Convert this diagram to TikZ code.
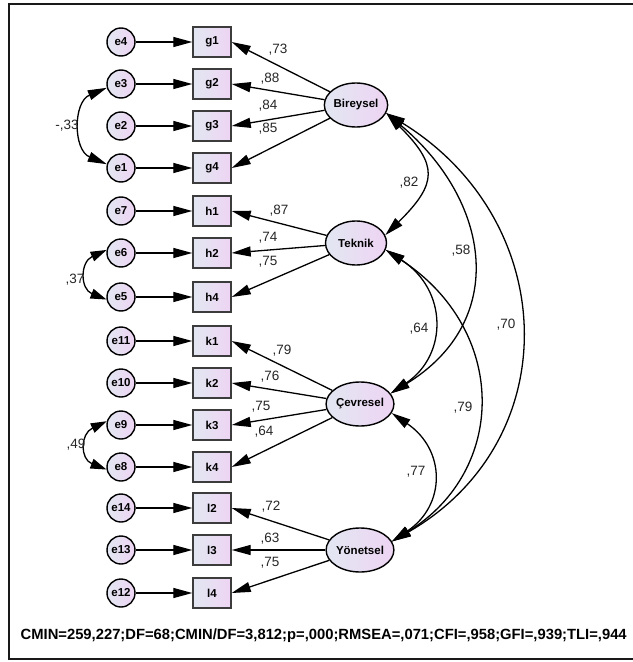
\documentclass[tikz,border=0pt]{standalone}
\usepackage{fontspec}
\setmainfont{Liberation Sans}
\usetikzlibrary{arrows.meta,shapes.geometric,calc}
\definecolor{lc}{RGB}{226,231,242}
\definecolor{rc}{RGB}{238,212,243}
\definecolor{boxline}{RGB}{60,60,60}
\begin{document}
\begin{tikzpicture}[x=1bp,y=-1bp,
  err/.style={circle,draw=black,line width=1.4bp,minimum size=28bp,inner sep=0pt,left color=lc,right color=rc,font=\fontsize{11.5bp}{13bp}\selectfont\bfseries},
  obs/.style={rectangle,draw=boxline,line width=1.4bp,minimum width=38bp,minimum height=30bp,inner sep=0pt,left color=lc,right color=rc,font=\fontsize{11.5bp}{13bp}\selectfont\bfseries},
  lat/.style={ellipse,draw=black,line width=1.4bp,minimum width=61bp,minimum height=44bp,inner sep=0pt,left color=lc,right color=rc,font=\fontsize{11.5bp}{13bp}\selectfont\bfseries},
  arr/.style={line width=1.3bp,-{Triangle[length=19bp,width=10bp]}},
  cov/.style={line width=1.3bp,{Triangle[length=19bp,width=10bp]}-{Triangle[length=19bp,width=10bp]}},
  scov/.style={line width=1.3bp,{Triangle[length=16bp,width=10bp]}-{Triangle[length=16bp,width=10bp]}},
  lab/.style={inner sep=0pt,text=black!85,font=\fontsize{13.5bp}{15bp}\selectfont}]
\useasboundingbox (0,0) rectangle (633,662);
\fill[white] (0,0) rectangle (633,662);
\draw[line width=2.6bp,black!90] (645,4) -- (9,4) -- (9,659) -- (645,659);

% error terms
\node[err] (e4) at (121,42) {e4};
\node[err] (e3) at (121,84) {e3};
\node[err] (e2) at (121,126) {e2};
\node[err] (e1) at (121,168) {e1};
\node[err] (e7) at (121,211) {e7};
\node[err] (e6) at (121,253) {e6};
\node[err] (e5) at (121,297) {e5};
\node[err] (e11) at (121,341) {e11};
\node[err] (e10) at (121,383) {e10};
\node[err] (e9) at (121,425) {e9};
\node[err] (e8) at (121,467) {e8};
\node[err] (e14) at (121,508) {e14};
\node[err] (e13) at (121,550) {e13};
\node[err] (e12) at (121,593) {e12};

% observed
\node[obs] (g1) at (212,42) {g1};
\node[obs] (g2) at (212,84) {g2};
\node[obs] (g3) at (212,126) {g3};
\node[obs] (g4) at (212,168) {g4};
\node[obs] (h1) at (212,211) {h1};
\node[obs] (h2) at (212,253) {h2};
\node[obs] (h4) at (212,297) {h4};
\node[obs] (k1) at (212,341) {k1};
\node[obs] (k2) at (212,383) {k2};
\node[obs] (k3) at (212,425) {k3};
\node[obs] (k4) at (212,467) {k4};
\node[obs] (l2) at (212,508) {l2};
\node[obs] (l3) at (212,550) {l3};
\node[obs] (l4) at (212,593) {l4};

% latent
\node[lat] (B) at (356,105) {Bireysel};
\node[lat] (T) at (356,243) {Teknik};
\node[lat] (C) at (360,404) {Çevresel};
\node[lat] (Y) at (360,550) {Yönetsel};

% error arrows
\foreach \e/\o in {e4/g1,e3/g2,e2/g3,e1/g4,e7/h1,e6/h2,e5/h4,e11/k1,e10/k2,e9/k3,e8/k4,e14/l2,e13/l3,e12/l4}
  \draw[arr] (\e) -- (\o);

% loadings
\foreach \o in {g1,g2,g3,g4} \draw[arr] (B) -- (\o.east);
\foreach \o in {h1,h2,h4} \draw[arr] (T) -- (\o.east);
\foreach \o in {k1,k2,k3,k4} \draw[arr] (C) -- (\o.east);
\foreach \o in {l2,l3,l4} \draw[arr] (Y) -- (\o.east);

% loading labels
\node[lab] (lg1) at (278,50) {,73};
\node[lab] (lg2) at (270,79) {,88};
\node[lab] (lg3) at (268,106) {,84};
\node[lab] (lg4) at (268,129) {,85};
\node[lab] (lh1) at (279,211) {,87};
\node[lab] (lh2) at (268,238) {,74};
\node[lab] (lh4) at (268,262) {,75};
\node[lab] (lk1) at (282,351) {,79};
\node[lab] (lk2) at (270,377) {,76};
\node[lab] (lk3) at (261,407) {,75};
\node[lab] (lk4) at (264,432) {,64};
\node[lab] (ll2) at (271,507) {,72};
\node[lab] (ll3) at (270,539) {,63};
\node[lab] (ll4) at (270,563) {,75};

% error covariances
\draw[cov] (e3.195) .. controls (73,102) and (73,150) .. (e1.165);
\draw[scov] (e6.168) .. controls (80,262) and (80,289) .. (e5.190);
\draw[scov] (e9.165) .. controls (80,434) and (80,459) .. (e8.190);
\node[lab] (c31) at (67,126) {-,33};
\node[lab] (c65) at (75,280) {,37};
\node[lab] (c98) at (76,445) {,49};

% latent covariances
\draw[cov] (B.-15) .. controls (438,165) and (438,183) .. (T.15);
\draw[cov] (B.-15) .. controls (490,200) and (510,320) .. (C.19);
\draw[cov] (B.-15) .. controls (560,220) and (568,440) .. (Y.15);
\draw[cov] (T.-13) .. controls (448,290) and (448,355) .. (C.19);
\draw[cov] (T.-13) .. controls (508,330) and (508,470) .. (Y.15);
\draw[cov] (C.-16) .. controls (446,450) and (446,505) .. (Y.15);
\node[lab] (cBT) at (409,183) {,82};
\node[lab] (cBC) at (461,251) {,58};
\node[lab] (cTC) at (419,329) {,64};
\node[lab] (cBY) at (506,325) {,70};
\node[lab] (cTY) at (463,408) {,79};
\node[lab] (cCY) at (416,472) {,77};

% fit indices
\node[inner sep=0pt] (fit) at (323.7,636) {\resizebox{606bp}{!}{\fontsize{14bp}{16bp}\selectfont\bfseries CMIN=259,227;DF=68;CMIN/DF=3,812;p=,000;RMSEA=,071;CFI=,958;GFI=,939;TLI=,944}};
\end{tikzpicture}
\end{document}
